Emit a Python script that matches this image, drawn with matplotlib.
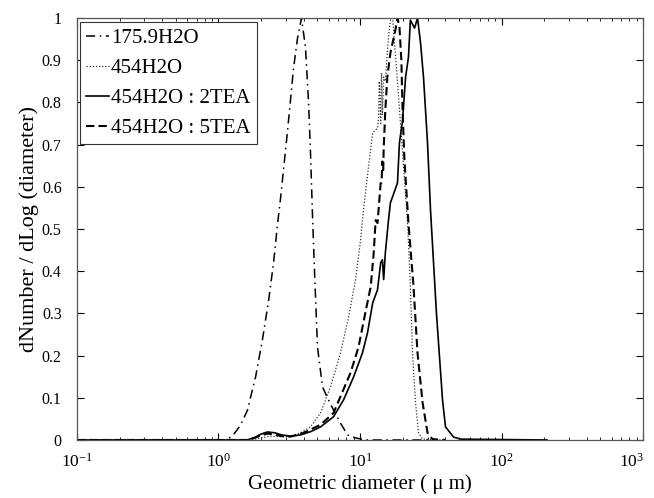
import matplotlib
matplotlib.use('Agg')
import matplotlib.pyplot as plt
from matplotlib.ticker import FuncFormatter, LogLocator
from matplotlib.transforms import ScaledTranslation

plt.rcParams['font.family'] = ['Liberation Serif', 'DejaVu Serif']
plt.rcParams['mathtext.fontset'] = 'stix'

# series (diameter in um, normalised dN/dlogD)
labels = ['175.9H2O', '454H2O', '454H2O : 2TEA', '454H2O : 5TEA']

x_1759 = [0.1, 1.14, 1.26, 1.43, 1.60, 1.83, 2.05, 2.26, 2.45, 2.61, 2.74, 3.07, 3.39, 3.61, 3.86,
          4.12, 4.33, 4.47, 4.62, 4.77, 5.01, 5.43, 5.89, 6.50, 7.28, 8.17, 9.29, 10.9, 30.0]
y_1759 = [0, 0, 0.01, 0.035, 0.07, 0.15, 0.24, 0.33, 0.42, 0.51, 0.57, 0.73, 0.88, 0.95, 1.0,
          0.93, 0.80, 0.68, 0.53, 0.40, 0.22, 0.126, 0.10, 0.071, 0.04, 0.012, 0.005, 0, 0]

x_454 = [0.1, 1.7, 2.0, 2.3, 2.7, 3.2, 3.8, 4.47, 5.26, 6.19, 7.28, 8.30, 9.29, 10.1, 10.4, 11.3,
         12.3, 13.3, 13.5, 13.7, 14.0, 14.2, 14.4, 14.7, 15.1, 15.6, 15.9, 16.4, 17.0, 18.4, 20.0,
         21.7, 22.7, 23.5, 24.7, 25.9, 27.7, 40.0]
y_454 = [0, 0, 0.005, 0.009, 0.008, 0.008, 0.017, 0.031, 0.064, 0.126, 0.206, 0.291, 0.379, 0.474,
         0.521, 0.628, 0.728, 0.739, 0.76, 0.85, 0.75, 0.87, 0.77, 0.86, 0.85, 0.917, 0.955, 0.995,
         1.0, 0.85, 0.68, 0.514, 0.363, 0.206, 0.088, 0.017, 0.002, 0]

x_2tea = [0.1, 1.6, 1.8, 2.0, 2.22, 2.5, 2.8, 3.23, 3.8, 4.5, 5.26, 6.50, 7.65, 9.0, 10.4, 11.3,
          12.3, 13.3, 14.0, 14.4, 14.7, 15.1, 15.9, 16.4, 18.4, 19.0, 20.0, 21.0, 22.0, 22.7, 24.3,
          25.5, 26.8, 28.1, 30.0, 31.5, 34.7, 38.3, 40.2, 45.8, 51.3, 210]
y_2tea = [0, 0, 0.006, 0.014, 0.019, 0.017, 0.012, 0.009, 0.012, 0.02, 0.031, 0.055, 0.095, 0.149,
          0.206, 0.254, 0.325, 0.356, 0.42, 0.427, 0.38, 0.443, 0.521, 0.562, 0.609, 0.704, 0.758,
          0.860, 0.907, 0.995, 0.976, 1.0, 0.94, 0.86, 0.704, 0.545, 0.30, 0.095, 0.031, 0.007,
          0.002, 0]

x_5tea = [0.1, 1.6, 1.8, 2.0, 2.22, 2.5, 2.8, 3.23, 3.99, 5.26, 6.50, 8.57, 9.76, 10.9, 11.9, 12.5,
          12.9, 13.3, 14.0, 14.2, 14.4, 14.6, 14.7, 15.1, 15.6, 16.4, 17.8, 18.4, 19.0, 19.6, 20.0,
          20.6, 22.0, 23.9, 25.5, 27.7, 30.0, 32.5, 40.0]
y_5tea = [0, 0, 0.005, 0.011, 0.015, 0.013, 0.009, 0.008, 0.017, 0.036, 0.064, 0.159, 0.22, 0.301,
          0.363, 0.443, 0.521, 0.514, 0.609, 0.61, 0.66, 0.64, 0.69, 0.782, 0.86, 0.917, 0.972, 1.0,
          0.979, 0.90, 0.78, 0.664, 0.514, 0.363, 0.206, 0.088, 0.017, 0.002, 0]

x_ticks = [0.1, 1, 10, 100, 1000]

fig = plt.figure(figsize=(6.54, 4.98), dpi=100)
ax = fig.add_axes([0.1177, 0.1165, 0.8655, 0.8474])

ax.plot(x_1759, y_1759, color='k', lw=1.1, linestyle=(0, (6, 3, 1, 3)), label=labels[0])
ax.plot(x_454, y_454, color='#333333', lw=0.9, linestyle=(0, (1, 1.5)), label=labels[1])
ax.plot(x_2tea, y_2tea, color='k', lw=1.2, linestyle='-', label=labels[2])
ax.plot(x_5tea, y_5tea, color='k', lw=1.5, linestyle=(0, (4, 2)), label=labels[3])

ax.set_xscale('log')
ax.set_xlim(0.1, 1000)
ax.set_ylim(0, 1)
ax.set_xticks(x_ticks)
ax.set_yticks([i / 10 for i in range(11)])
ax.yaxis.set_major_formatter(FuncFormatter(lambda v, _: '%g' % v))
ax.xaxis.set_minor_locator(LogLocator(base=10, subs=range(2, 10), numticks=20))

ax.tick_params(which='both', direction='in', top=True, right=True, colors='k')
ax.tick_params(which='major', length=5, width=0.8)
ax.tick_params(which='minor', length=2.5, width=0.6)
ax.tick_params(axis='x', pad=9, labelsize=12.5)
ax.tick_params(axis='y', pad=11, labelsize=11.5)
for s in ax.spines.values():
    s.set_color('#555555')
    s.set_linewidth(0.9)

# last label sits on the figure edge, nudge it in a bit
last = ax.get_xticklabels()[-1]
last.set_transform(last.get_transform() + ScaledTranslation(-8 / 72, 0, fig.dpi_scale_trans))

ax.set_xlabel('Geometric diameter ( \u03bc m)', fontsize=15, labelpad=3)
ax.set_ylabel('dNumber / dLog (diameter)', fontsize=16, labelpad=2)

leg = ax.legend(loc='upper left', bbox_to_anchor=(0.005, 0.99), borderaxespad=0, fontsize=15,
                handlelength=1.1, handletextpad=0.1, borderpad=0.3, labelspacing=0.5,
                fancybox=False, framealpha=1, edgecolor='#333333')
leg.get_frame().set_linewidth(0.8)

fig.savefig('out.png', dpi=100)
